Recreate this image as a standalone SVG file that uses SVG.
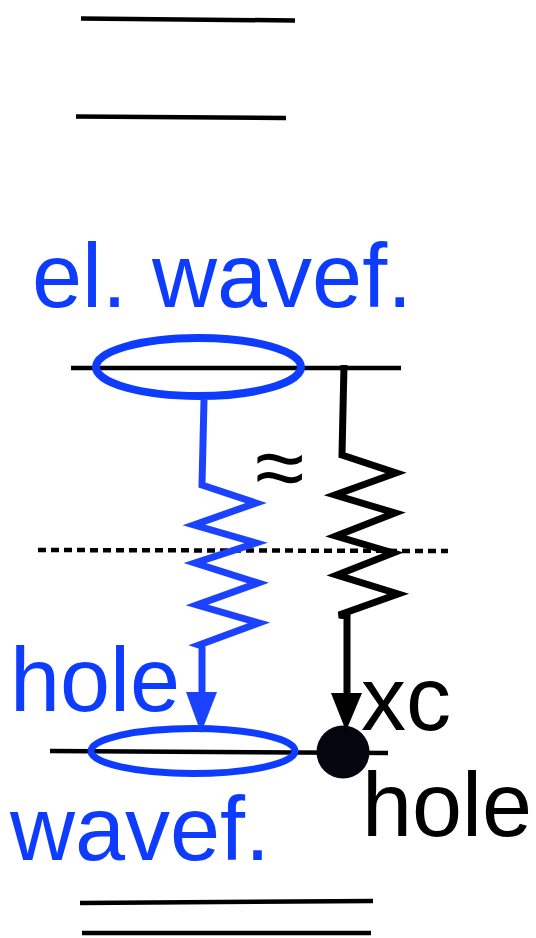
<svg xmlns="http://www.w3.org/2000/svg" width="536" height="938" viewBox="0 0 536 938">
<style>
.lvl{stroke:#000;stroke-width:4.5;fill:none}
.bl{stroke:#1b43ff;stroke-width:7;fill:none;stroke-linejoin:miter}
.bk{stroke:#000;stroke-width:7;fill:none;stroke-linejoin:miter}
.tb{font-family:"Liberation Sans",Arial,sans-serif;font-size:90px;fill:#0d3cff}
.tk{font-family:"Liberation Sans",Arial,sans-serif;font-size:90px;fill:#000}
</style>
<rect width="536" height="938" fill="#fff"/>
<g id="levels">
<line class="lvl" x1="81" y1="18.5" x2="295" y2="20.5"/>
<line class="lvl" x1="76" y1="116.5" x2="286" y2="118"/>
<line class="lvl" x1="71" y1="368" x2="401" y2="368"/>
<line x1="38" y1="550" x2="448" y2="551" stroke="#000" stroke-width="4.5" stroke-dasharray="8,5"/>
<line class="lvl" x1="50" y1="751" x2="388" y2="753"/>
<line class="lvl" x1="80" y1="903" x2="373" y2="901"/>
<line class="lvl" x1="82" y1="933" x2="371" y2="933"/>
</g>
<g id="el-wavef">
<ellipse cx="198.5" cy="367" rx="102.5" ry="29" fill="none" stroke="#0d3cff" stroke-width="8"/>
<text class="tb" x="32" y="307">el. wavef.</text>
</g>
<g id="hole-wavef">
<ellipse cx="193" cy="751" rx="102" ry="22.5" fill="none" stroke="#0d3cff" stroke-width="7"/>
<text class="tb" x="10" y="711">hole</text>
<text class="tb" x="10" y="860">wavef.</text>
</g>
<g id="xc-hole">
<circle cx="343" cy="752" r="26.5" fill="#05050f"/>
<text class="tk" x="361" y="730">xc</text>
<text class="tk" x="362" y="836">hole</text>
</g>
<g id="connectors">
<polyline class="bl" points="204,400 202,485 256,503 194,525 256,543 195,563 258,583 197,605 259,623 199,645 202,646 202,695"/>
<polygon points="186,692 217,692 201,733" fill="#1b43ff"/>
<polyline class="bk" points="344,365 342,455 396,473 335,495 395,513 336,536 393,553 337,575 398,594 339,615 347,616 347,695"/>
<polygon points="331,693 362,693 346,731" fill="#000"/>
<text class="tk" x="255" y="498" font-size="86">≈</text>
</g>
</svg>
